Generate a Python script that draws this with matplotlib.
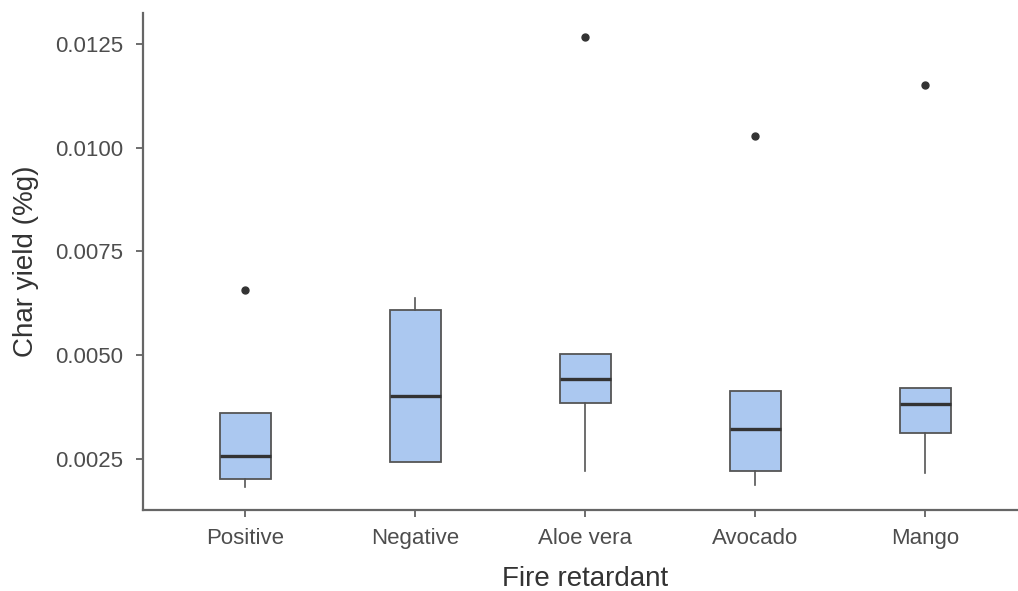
import matplotlib
matplotlib.use("Agg")
import matplotlib.pyplot as plt

plt.rcParams['font.family'] = ['Liberation Sans', 'DejaVu Sans']

groups = ["Positive", "Negative", "Aloe vera", "Avocado", "Mango"]
q1 = [0.00202, 0.00243, 0.00385, 0.00221, 0.00313]
med = [0.00257, 0.00402, 0.00443, 0.00322, 0.00383]
q3 = [0.00361, 0.00609, 0.00503, 0.00414, 0.00420]
whislo = [0.00183, 0.00243, 0.00221, 0.00187, 0.00216]
whishi = [0.00361, 0.00638, 0.00503, 0.00414, 0.00420]
outliers = [[0.00657], [], [0.01267], [0.01029], [0.01152]]

stats = []
for i, g in enumerate(groups):
    stats.append(dict(label=g, q1=q1[i], med=med[i], q3=q3[i],
                      whislo=whislo[i], whishi=whishi[i], fliers=outliers[i]))

fig = plt.figure(figsize=(10.18, 5.91), dpi=100)
ax = fig.add_axes([143 / 1018, 1 - 510 / 591, 884 / 1018, 497 / 591])

ax.bxp(stats, positions=range(1, 6), widths=0.3, patch_artist=True,
       showcaps=False,
       boxprops=dict(facecolor="#abc8f0", edgecolor="#555555", linewidth=1.3),
       medianprops=dict(color="#333333", linewidth=2.4),
       whiskerprops=dict(color="#555555", linewidth=1.2),
       flierprops=dict(marker="o", markerfacecolor="#333333",
                       markeredgecolor="#333333", markersize=5))

ax.set_xlim(0.4, 5.6)
ax.set_ylim(0.001271, 0.013247)
ax.set_yticks([0.0025, 0.0050, 0.0075, 0.0100, 0.0125])
ax.set_yticklabels(["0.0025", "0.0050", "0.0075", "0.0100", "0.0125"])
ax.set_xticks(range(1, 6))
ax.set_xticklabels(groups)

for s in ["top", "right"]:
    ax.spines[s].set_visible(False)
for s in ["left", "bottom"]:
    ax.spines[s].set_color("#666666")
    ax.spines[s].set_linewidth(1.6)
ax.tick_params(colors="#555555", labelcolor="#4d4d4d", labelsize=16,
               length=5, width=1.2)
ax.tick_params(axis="y", pad=9)
ax.tick_params(axis="x", pad=8)

ax.set_xlabel("Fire retardant", fontsize=20, color="#333333", labelpad=12)
ax.set_ylabel("Char yield (%g)", fontsize=20, color="#333333", labelpad=12)

fig.savefig("out.png", dpi=100)
